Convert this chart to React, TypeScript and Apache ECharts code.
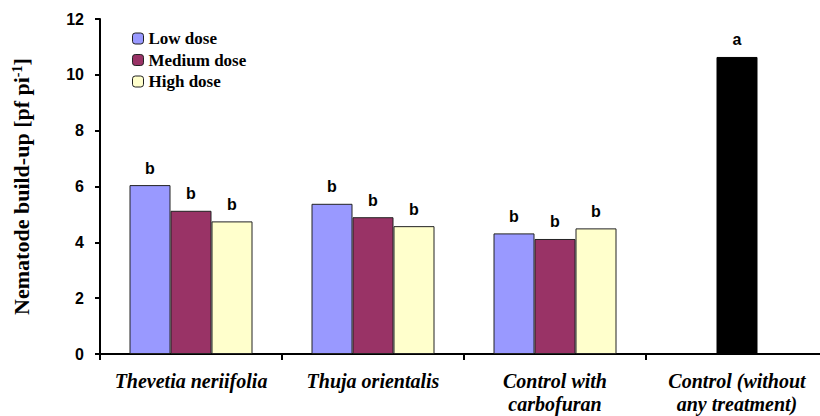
import React, { useEffect, useRef } from "react";
import * as echarts from "echarts";

const categories = [
  "Thevetia neriifolia",
  "Thuja orientalis",
  "Control with\ncarbofuran",
  "Control (without\nany treatment)",
];
const seriesNames = ["Low dose", "Medium dose", "High dose"];
const lowDose: (number | null)[] = [6.05, 5.38, 4.32, null];
const mediumDose: (number | null)[] = [5.13, 4.9, 4.12];
const highDose: (number | null)[] = [4.75, 4.58, 4.5, null];
const controlValue = 10.64;
const lowLetters = ["b", "b", "b", ""];
const mediumLetters = ["b", "b", "b", "a"];
const highLetters = ["b", "b", "b", ""];
const yTicks = { min: 0, max: 12, interval: 2 };

const colors = ["#9999FF", "#993366", "#FFFFCC"];
const controlColor = "#000000";
const SERIF = "'Liberation Serif', 'Times New Roman', serif";
const SANS = "'Liberation Sans', Arial, sans-serif";

export default function App() {
  const ref = useRef<HTMLDivElement>(null);
  useEffect(() => {
    if (!ref.current) return;
    const chart = echarts.init(ref.current, undefined, { renderer: "svg" });
    const labelStyle = (letters: string[]) => ({
      show: true,
      position: "top" as const,
      distance: 9,
      fontFamily: SANS,
      fontWeight: "bold" as const,
      fontSize: 16,
      color: "#000",
      formatter: (p: any) => letters[p.dataIndex] || "",
    });
    const itemStyle = (c: string) => ({
      color: c,
      borderColor: "#222",
      borderWidth: 1,
    });
    const mediumData: any[] = mediumDose.map((v) => v);
    mediumData.push({
      value: controlValue,
      itemStyle: { color: controlColor, borderColor: controlColor },
    });
    chart.setOption({
      animation: false,
      backgroundColor: "#fff",
      grid: {
        left: 100,
        right: -8,
        top: 19,
        bottom: 62,
        containLabel: false,
        outerBoundsMode: "none",
      },
      legend: {
        orient: "vertical",
        left: 132,
        top: 30,
        padding: 0,
        itemWidth: 11,
        itemHeight: 11,
        itemGap: 4.5,
        itemStyle: { borderColor: "#222", borderWidth: 1 },
        textStyle: {
          fontFamily: SERIF,
          fontWeight: "bold",
          fontSize: 17,
          color: "#000",
        },
        data: seriesNames,
      },
      xAxis: {
        type: "category",
        data: categories,
        boundaryGap: true,
        axisLine: { lineStyle: { color: "#000", width: 2 } },
        axisTick: { show: true, length: 6, lineStyle: { color: "#000", width: 2 } },
        axisLabel: {
          margin: 15,
          interval: 0,
          fontFamily: SERIF,
          fontWeight: "bold",
          fontStyle: "italic",
          fontSize: 20,
          lineHeight: 23,
          color: "#000",
        },
      },
      yAxis: {
        type: "value",
        min: yTicks.min,
        max: yTicks.max,
        interval: yTicks.interval,
        name: "Nematode build-up [pf pi{sup|-1}]",
        nameLocation: "middle",
        nameGap: 68,
        nameRotate: 90,
        nameTextStyle: {
          fontFamily: SERIF,
          fontWeight: "bold",
          fontSize: 22,
          color: "#000",
          rich: {
            sup: {
              fontFamily: SERIF,
              fontWeight: "bold",
              fontSize: 14,
              verticalAlign: "top",
              padding: [0, 0, 8, 0],
              color: "#000",
            },
          },
        },
        splitLine: { show: false },
        axisLine: { show: true, lineStyle: { color: "#000", width: 2 } },
        axisTick: { show: true, length: 5, lineStyle: { color: "#000", width: 2 } },
        axisLabel: {
          margin: 16,
          fontFamily: SANS,
          fontWeight: "bold",
          fontSize: 16,
          color: "#000",
        },
      },
      series: [
        {
          name: seriesNames[0],
          type: "bar",
          data: lowDose,
          barWidth: 41,
          barGap: "0%",
          itemStyle: itemStyle(colors[0]),
          label: labelStyle(lowLetters),
        },
        {
          name: seriesNames[1],
          type: "bar",
          data: mediumData,
          barWidth: 41,
          barGap: "0%",
          itemStyle: itemStyle(colors[1]),
          label: labelStyle(mediumLetters),
        },
        {
          name: seriesNames[2],
          type: "bar",
          data: highDose,
          barWidth: 41,
          barGap: "0%",
          itemStyle: itemStyle(colors[2]),
          label: labelStyle(highLetters),
        },
      ],
    });
    return () => chart.dispose();
  }, []);
  return <div ref={ref} style={{ width: 820, height: 416, position: "absolute", left: 0, top: 0 }} />;
}
